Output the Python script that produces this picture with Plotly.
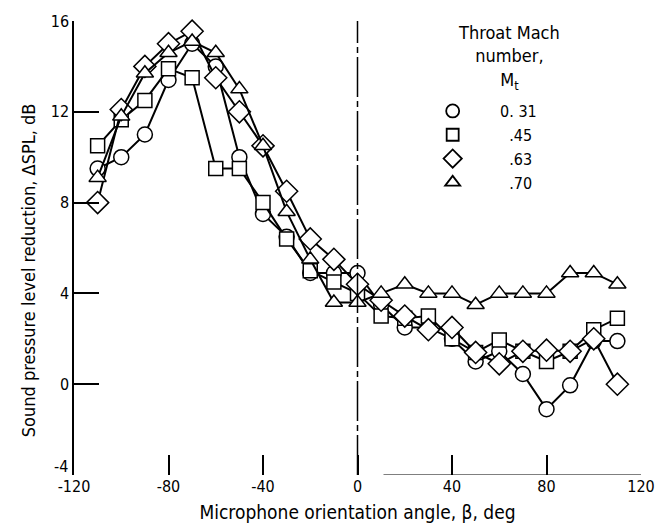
import plotly.graph_objects as go

# ---- data ----
angles = [-110, -100, -90, -80, -70, -60, -50, -40, -30, -20, -10, 0,
          10, 20, 30, 40, 50, 60, 70, 80, 90, 100, 110]

m031 = [9.5, 10.0, 11.0, 13.4, 15.0, 14.0, 10.0, 7.5, 6.5, 4.9, 4.9, 4.9,
        3.5, 2.5, 2.5, 2.0, 1.0, 1.45, 0.45, -1.1, -0.05, 1.9, 1.9]
m045 = [10.5, 11.65, 12.5, 13.9, 13.5, 9.5, 9.5, 8.0, 6.4, 5.0, 4.5, 4.0,
        3.0, 2.9, 3.0, 2.0, 1.4, 1.95, 1.45, 1.0, 1.45, 2.4, 2.9]
m063 = [8.0, 12.1, 14.0, 15.0, 15.55, 13.5, 12.0, 10.5, 8.5, 6.4, 5.5, 4.4,
        3.7, 3.0, 2.4, 2.5, 1.4, 0.9, 1.45, 1.5, 1.45, 2.0, 0.0]
m070 = [9.1, 11.8, 13.7, 14.6, 15.1, 14.6, 13.0, 10.5, 7.6, 5.5, 3.6, 3.6,
        4.0, 4.4, 4.0, 4.0, 3.5, 4.0, 4.0, 4.0, 4.9, 4.9, 4.4]

series_names = ["0. 31", ".45", ".63", ".70"]
series_symbols = ["circle", "square", "diamond", "triangle-up"]
series_sizes = [15, 14, 17, 15]
legend_sizes = [13, 12, 14, 13]
series_values = [m031, m045, m063, m070]

x_ticks = [-120, -80, -40, 0, 40, 80, 120]
y_ticks = [0, 4, 8, 12, 16]

FONT = "Liberation Sans Narrow, DejaVu Sans Condensed, Liberation Sans, sans-serif"

fig = go.Figure()

# data lines
for name, sym, sz, vals in zip(series_names, series_symbols, series_sizes, series_values):
    fig.add_trace(go.Scatter(
        x=angles, y=vals, mode="lines+markers", showlegend=False,
        line=dict(color="black", width=2),
        marker=dict(symbol=sym, size=sz, color="white",
                    line=dict(color="black", width=1.5)),
        cliponaxis=False,
    ))

# legend entries (symbols only)
pads = ["\u00a0" * 6, "\u00a0" * 8, "\u00a0" * 8, "\u00a0" * 8]
for i, (name, sym, sz) in enumerate(zip(series_names, series_symbols, legend_sizes)):
    fig.add_trace(go.Scatter(
        x=[None], y=[None], mode="markers", name=pads[i] + name,
        marker=dict(symbol=sym, size=sz, color="white",
                    line=dict(color="black", width=1.8)),
    ))

fig.update_layout(
    width=667, height=532,
    margin=dict(l=74, r=16, t=15, b=57),
    plot_bgcolor="white", paper_bgcolor="white",
    font=dict(family=FONT, size=16, color="black"),
    showlegend=True,
    legend=dict(x=(439 - 74) / 577, y=(475 - 89) / 460, xanchor="left", yanchor="top",
                bgcolor="rgba(0,0,0,0)", borderwidth=0, tracegroupgap=0,
                font=dict(family=FONT, size=16)),
    xaxis=dict(range=[-120, 120], tickvals=x_ticks, ticktext=[str(v) for v in x_ticks],
               ticks="inside", ticklen=20, tickwidth=1.5, tickcolor="black",
               showline=False, showgrid=False, zeroline=False,
               title=dict(text="Microphone orientation angle, β, deg", standoff=10,
                          font=dict(family=FONT, size=19))),
    yaxis=dict(range=[-4, 16], tickvals=y_ticks, ticktext=[str(v) for v in y_ticks],
               ticks="inside", ticklen=25, tickwidth=1.5, tickcolor="black",
               showline=True, linewidth=1.5, linecolor="black",
               showgrid=False, zeroline=False),
)

# y-axis title
fig.add_annotation(text="Sound pressure level reduction, ΔSPL, dB", textangle=-90,
                   xref="paper", yref="paper", x=(15 - 74) / 577, y=(475 - 268) / 460,
                   showarrow=False, font=dict(family=FONT, size=18))
# -4 label
fig.add_annotation(text="-4", xref="paper", yref="y", x=0, y=-4, xanchor="right",
                   xshift=-4, yshift=9, showarrow=False, font=dict(family=FONT, size=16))
# legend title
fig.add_annotation(text="Throat Mach<br>number,<br>M<sub>t</sub>", xref="paper", yref="paper",
                   x=(517 - 74) / 577, y=(475 - 14) / 460, yanchor="top", xanchor="center",
                   align="center", showarrow=False, font=dict(family=FONT, size=18))

# vertical center line at 0 deg and partial bottom axis line
fig.add_shape(type="line", x0=0, x1=0, y0=-4, y1=16, xref="x", yref="y",
              line=dict(color="black", width=1.5, dash="40px,4px,6px,4px"))
fig.add_shape(type="line", x0=11, x1=120, y0=-4, y1=-4, xref="x", yref="y",
              line=dict(color="black", width=1.2))

fig.write_html("out.html")
